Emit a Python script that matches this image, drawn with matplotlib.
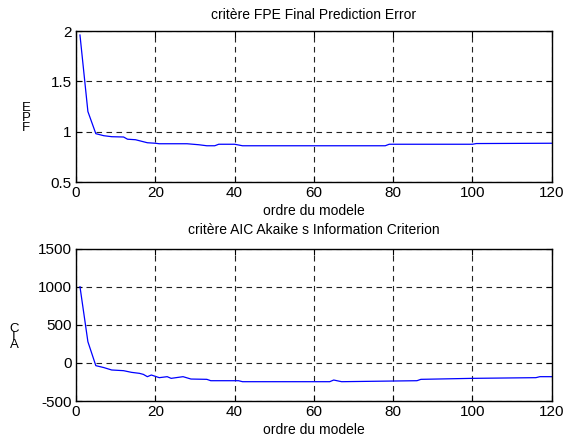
import matplotlib
matplotlib.use("Agg")
import matplotlib.pyplot as plt

# -- Donnees -----------------------------------------------------------------
ordre_fpe = [1, 3, 5, 7, 9, 12, 13, 15, 18, 20, 21, 28, 31, 33, 35, 36, 40, 42,
             56, 78, 79, 100, 101, 120]
fpe = [1.96, 1.20, 0.98, 0.96, 0.95, 0.947, 0.925, 0.92, 0.89, 0.885, 0.88, 0.88,
       0.87, 0.86, 0.86, 0.875, 0.875, 0.86, 0.86, 0.86, 0.875, 0.875, 0.882, 0.885]

ordre_aic = [1, 3, 5, 7, 9, 12, 14, 16, 17, 18, 19, 21, 23, 24, 27, 29, 33, 34,
             41, 42, 64, 65, 67, 86, 87, 100, 116, 117, 120]
aic = [1004, 280, -35, -60, -92, -101, -123, -136, -150, -180, -158, -193, -180,
       -202, -180, -211, -215, -233, -233, -246, -246, -224, -246, -233, -215,
       -202, -193, -180, -180]

xticks = [0, 20, 40, 60, 80, 100, 120]
yticks_fpe = [0.5, 1, 1.5, 2]
yticks_aic = [-500, 0, 500, 1000, 1500]

plt.rcParams["font.family"] = ["Liberation Sans", "DejaVu Sans"]
plt.rcParams["font.size"] = 10
plt.rcParams["axes.unicode_minus"] = False

fig = plt.figure(figsize=(5.63, 4.41), dpi=100)


def style(ax):
    ax.grid(True, color="#222222", linestyle=(0, (5, 4)), linewidth=0.8)
    ax.tick_params(direction="in", length=4, top=True, right=True, pad=3,
                   labelsize=11)
    for s in ax.spines.values():
        s.set_linewidth(1.0)


# -- FPE ----------------------------------------------------------------------
ax1 = fig.add_axes([0.135, 0.5873, 0.845, 0.3424])
ax1.plot(ordre_fpe, fpe, color="#0000ff", linewidth=0.9)
ax1.set_xlim(0, 120)
ax1.set_ylim(0.5, 2)
ax1.set_xticks(xticks)
ax1.set_yticks(yticks_fpe)
ax1.set_yticklabels(["0.5", "1", "1.5", "2"])
style(ax1)
ax1.set_title("critère FPE Final Prediction Error", fontsize=10, pad=9)
ax1.set_xlabel("ordre du modele", fontsize=10, labelpad=3)

# -- AIC ----------------------------------------------------------------------
ax2 = fig.add_axes([0.135, 0.0907, 0.845, 0.3447])
ax2.plot(ordre_aic, aic, color="#0000ff", linewidth=0.9)
ax2.set_xlim(0, 120)
ax2.set_ylim(-500, 1500)
ax2.set_xticks(xticks)
ax2.set_yticks(yticks_aic)
style(ax2)
ax2.set_title("critère AIC Akaike s Information Criterion", fontsize=10, pad=11)
ax2.set_xlabel("ordre du modele", fontsize=10, labelpad=3)

# ylabels : lettres empilees, interligne serre
fig.text(26 / 563, 1 - 118 / 441, "E\nP\nF", ha="center", va="center",
         fontsize=9.5, linespacing=0.75)
fig.text(14 / 563, 1 - 337 / 441, "C\nI\nA", ha="center", va="center",
         fontsize=9.5, linespacing=0.6)

plt.savefig("out.png", dpi=100)
plt.close()
